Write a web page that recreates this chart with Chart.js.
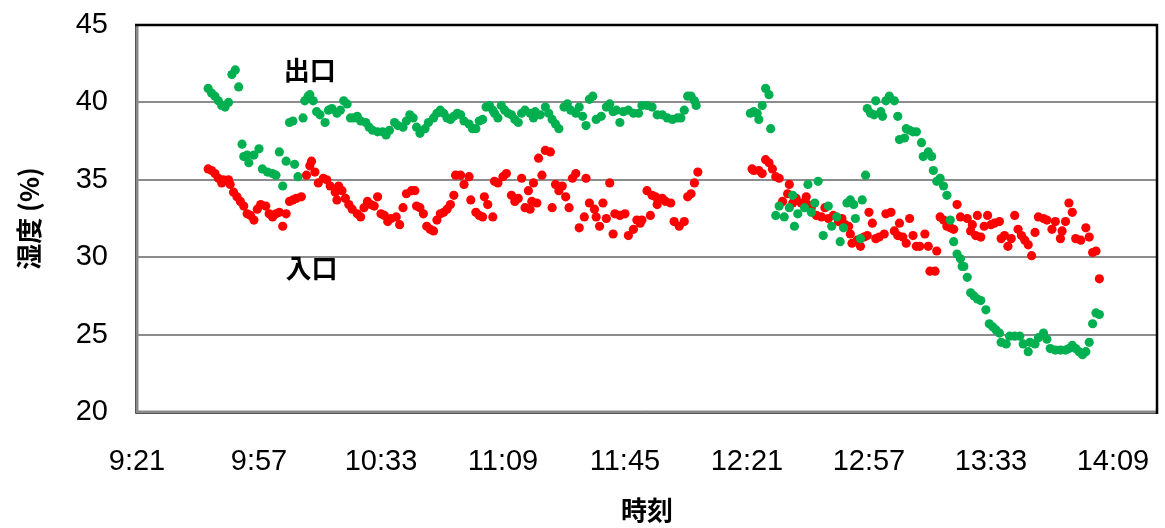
<!DOCTYPE html>
<html>
<head>
<meta charset="utf-8">
<script src="https://cdn.jsdelivr.net/npm/chart.js@4/dist/chart.umd.min.js"></script>
<style>
  html, body { margin: 0; padding: 0; background: #ffffff; }
  #wrap { width: 1165px; height: 528px; position: relative; }
</style>
</head>
<body>
<div id="wrap"><canvas id="c" width="1165" height="528"></canvas></div>
<script>
// Humidity at the outlet (出口) and the inlet (入口), logged through the day.
const outletTimes = [
  "9:42","9:43","9:44","9:45","9:46","9:47","9:48","9:49","9:50","9:51",
  "9:52","9:52:30","9:53:30","9:54","9:55:30","9:57","9:58","9:59:30","10:01","10:02",
  "10:03","10:04","10:05","10:06","10:07","10:07:30","10:08:30","10:10","10:10:30","10:11:30",
  "10:12","10:13","10:14","10:15","10:16:30","10:17:30","10:18:30","10:20","10:21","10:22",
  "10:23","10:24","10:25","10:26","10:27","10:28:30","10:29:30","10:30:30","10:32","10:33:30",
  "10:34:30","10:35:30","10:37","10:38","10:39:30","10:40:30","10:41:30","10:42:30","10:43:30","10:44:30",
  "10:46","10:47","10:48:30","10:49:30","10:50:30","10:51:30","10:52:30","10:53:30","10:54:30","10:55:30",
  "10:56:30","10:57:30","10:59","11:00","11:01","11:02","11:03","11:04","11:05","11:06",
  "11:06:30","11:07:30","11:08:30","11:09:30","11:10:30","11:11:30","11:12:30","11:13:30","11:14:30","11:15:30",
  "11:17","11:18","11:18:30","11:20","11:21:30","11:22:30","11:23:30","11:24:30","11:25:30","11:27",
  "11:28","11:29","11:30:30","11:31:30","11:32:30","11:33:30","11:34:30","11:35:30","11:36:30","11:38",
  "11:39:30","11:40:30","11:41:30","11:42:30","11:43:30","11:44:30","11:46","11:47:30","11:49","11:50",
  "11:51:30","11:53","11:54:30","11:56","11:57:30","11:59","12:00:30","12:01:30","12:02:30","12:03:30",
  "12:04:30","12:05:30","12:06",
  "12:22","12:23","12:24","12:24:30","12:25:30","12:26:30","12:27:30","12:28","12:29:30","12:30:30",
  "12:32","12:33:30","12:34:30","12:35","12:36","12:38","12:39","12:40","12:41","12:42",
  "12:43:30","12:45","12:46","12:47:30","12:48:30","12:49:30","12:50:30","12:51:30","12:52:30","12:53",
  "12:54:30","12:55","12:56","12:56:30","12:57:30","12:58:30","12:59","13:00:30","13:01","13:02",
  "13:03","13:04:30","13:05:30","13:06","13:07:30","13:08","13:09","13:10","13:11","13:12:30",
  "13:13","13:14:30","13:15:30","13:16","13:17","13:18","13:19","13:20","13:21","13:22",
  "13:23","13:24","13:24:30","13:25","13:26","13:27","13:28","13:29","13:30","13:31:30",
  "13:32:30","13:33:30","13:34:30","13:35:30","13:36","13:37:30","13:38:30","13:40","13:41:30","13:42:30",
  "13:44","13:44:30","13:46","13:47","13:48:30","13:49:30","13:50:30","13:52","13:53:30","13:55",
  "13:56","13:57","13:58","13:59","14:00","14:01","14:02","14:03","14:04","14:05"
];
const outletValues = [
  40.9,40.6,40.4,40.1,39.8,39.7,40.0,41.8,42.1,41.0,
  37.3,36.5,36.6,36.1,36.6,37.0,35.7,35.5,35.4,35.3,
  36.8,34.6,36.2,38.7,38.8,36.0,35.2,39.0,40.1,40.4,
  40.5,40.1,39.4,39.2,38.7,39.5,39.6,39.3,39.5,40.1,
  39.9,39.0,39.0,39.1,38.8,38.7,38.4,38.2,38.1,38.1,
  37.9,38.2,38.7,38.5,38.4,38.8,39.2,39.0,38.4,38.0,
  38.3,38.7,39.0,39.3,39.5,39.3,39.0,38.9,39.1,39.3,
  39.2,38.8,38.6,38.3,38.3,38.8,38.9,39.7,39.8,39.5,
  39.3,39.0,39.8,39.5,39.3,39.2,38.9,38.7,39.3,39.5,
  39.3,39.0,39.4,39.2,39.7,39.3,38.9,38.6,38.3,39.7,
  39.9,39.5,39.3,39.7,39.1,38.5,40.2,40.4,38.9,39.1,
  39.7,39.9,39.4,39.5,38.7,39.4,39.5,39.3,39.3,39.8,
  39.8,39.7,39.2,39.2,39.0,38.9,39.0,39.0,39.5,40.4,
  40.4,40.1,39.8,
  39.3,39.4,39.3,38.9,39.8,40.9,40.5,38.3,32.7,33.3,
  32.6,33.2,34.0,32.0,32.8,33.2,34.7,32.9,33.5,34.9,
  31.4,33.3,32.0,32.6,31.0,31.9,33.5,33.7,33.4,32.5,
  31.2,33.7,35.3,39.6,39.3,39.2,40.1,39.4,39.1,40.1,
  40.4,40.1,39.1,37.6,37.7,38.3,38.2,38.1,38.1,37.4,
  36.5,36.8,36.5,35.6,34.9,35.1,34.6,34.0,32.4,31.0,
  30.2,29.9,29.4,29.4,28.7,27.7,27.5,27.3,27.2,26.6,
  25.7,25.5,25.3,25.1,24.5,24.4,24.9,24.9,24.9,24.4,
  23.9,24.5,24.4,24.8,25.1,24.7,24.1,24.0,24.0,24.0,
  24.1,24.3,24.1,23.9,23.7,23.9,24.5,25.7,26.4,26.3
];

const inletTimes = [
  "9:42","9:43","9:44","9:45","9:46","9:46:30","9:48","9:48:30","9:49:30","9:50:30",
  "9:51:30","9:52:30","9:53:30","9:54:30","9:55:30","9:56:30","9:57:30","9:59","10:00","10:01",
  "10:02","10:03","10:04","10:05","10:06","10:07","10:08","10:09:30","10:11","10:12",
  "10:12:30","10:13:30","10:14:30","10:16","10:17","10:18","10:19:30","10:20","10:20:30","10:21:30",
  "10:22:30","10:23:30","10:24:30","10:26","10:27","10:28","10:29","10:30","10:31","10:32",
  "10:33","10:34","10:35","10:36","10:37:30","10:38:30","10:39:30","10:40:30","10:42","10:43",
  "10:43:30","10:44:30","10:45:30","10:46:30","10:47:30","10:48:30","10:49:30","10:50:30","10:51:30","10:52:30",
  "10:53:30","10:54:30","10:55","10:56:30","10:57:30","10:59","10:59:30","11:01","11:02","11:03",
  "11:03:30","11:04:30","11:06","11:06:30","11:07:30","11:09","11:10","11:11:30","11:12:30","11:13:30",
  "11:14:30","11:15:30","11:16:30","11:17","11:17:30","11:18","11:19","11:19:30","11:20:30","11:21:30",
  "11:23","11:23:30","11:24:30","11:25:30","11:26:30","11:27:30","11:28:30","11:29:30","11:30:30","11:31:30",
  "11:33","11:33:30","11:34:30","11:36","11:36:30","11:37:30","11:38:30","11:39:30","11:40:30","11:41:30",
  "11:42","11:43:30","11:45","11:46","11:47:30","11:48:30","11:49:30","11:50","11:51:30","11:52:30",
  "11:53","11:54","11:54:30","11:56","11:57","11:58:30","11:59:30","12:01","12:02:30","12:03:30",
  "12:04:30","12:05:30","12:06:30",
  "12:22:30","12:23","12:24:30","12:25:30","12:26:30","12:27:30","12:28:30","12:29:30","12:30:30","12:31:30",
  "12:33","12:33:30","12:34:30","12:35:30","12:37","12:38:30","12:39","12:40","12:41:30","12:43",
  "12:44","12:45","12:46:30","12:48","12:49","12:50","12:51","12:51:30","12:52","12:53:30",
  "12:54:30","12:55:30","12:56:30","12:57","12:58","12:59","13:00","13:01:30","13:02","13:03:30",
  "13:04:30","13:05:30","13:06","13:07","13:08","13:09","13:10","13:11","13:12","13:13:30",
  "13:14:30","13:15","13:16:30","13:17","13:18","13:19","13:20","13:21","13:22","13:23",
  "13:24","13:26","13:27","13:27:30","13:28:30","13:29","13:30","13:31","13:32","13:33",
  "13:34","13:35:30","13:36","13:37","13:38","13:39","13:40","13:41","13:42","13:43",
  "13:44","13:45","13:46","13:47","13:48:30","13:49:30","13:51","13:52","13:53:30","13:54",
  "13:55","13:56","13:57","13:58","13:59:30","14:01","14:02","14:03","14:04","14:05"
];
const inletValues = [
  35.7,35.6,35.4,35.1,34.8,35.0,35.0,34.7,34.2,33.9,
  33.6,33.3,32.8,32.7,32.4,33.1,33.4,33.3,32.8,32.6,
  32.8,32.9,32.0,32.8,33.6,33.7,33.8,33.9,35.3,35.9,
  36.2,35.5,34.8,35.1,35.0,34.6,34.2,33.7,34.6,34.3,
  33.8,33.4,33.1,32.8,32.6,33.2,33.6,33.4,33.3,33.9,
  32.8,32.7,32.3,32.5,32.6,32.1,33.2,34.1,34.3,34.3,
  33.3,33.2,32.8,32.0,31.8,31.7,32.4,32.8,32.9,33.1,
  33.4,34.0,35.3,35.3,34.7,35.2,33.7,32.9,32.7,32.6,
  33.9,33.4,32.6,34.9,34.8,35.2,35.4,34.0,33.6,33.8,
  35.1,33.2,34.3,33.1,33.6,34.8,33.5,36.4,35.3,36.9,
  36.8,33.2,34.7,34.3,34.6,33.9,33.2,35.1,35.4,31.9,
  32.6,35.1,33.5,33.1,32.6,32.0,33.5,32.5,34.8,31.5,
  32.8,32.7,32.8,31.4,31.8,32.4,32.2,32.4,34.3,32.7,
  34.0,33.9,33.4,33.8,33.6,33.5,32.3,32.0,32.3,33.9,
  34.1,34.8,35.5,
  35.7,35.6,35.6,35.4,36.3,36.1,35.7,35.2,35.1,33.6,
  34.1,34.7,33.5,33.8,33.5,33.9,33.4,33.2,32.7,32.6,
  33.2,32.5,32.7,32.3,32.5,32.1,32.0,31.5,30.9,31.1,
  30.7,31.3,31.4,32.9,32.2,31.2,31.3,31.5,32.8,32.9,
  31.7,31.4,32.2,31.3,30.9,32.5,31.4,30.7,30.7,31.5,
  30.7,29.1,29.1,30.4,32.6,32.4,32.0,31.9,31.8,33.4,
  32.6,32.5,31.7,32.1,31.4,32.7,31.3,32.0,32.7,32.1,
  32.2,32.3,31.2,31.4,30.7,31.2,32.7,31.8,31.4,31.1,
  30.8,30.1,31.6,32.6,32.5,32.4,31.8,32.3,31.2,31.7,
  32.3,33.5,32.9,31.2,31.1,31.9,31.3,30.3,30.4,28.6
];

// Axis range and tick spacing (time in minutes after midnight)
const timeAxisStart = "9:21";
const timeAxisEnd = "14:22";
const timeTickStep = 36;
const humidityTicks = [20, 25, 30, 35, 40, 45];

// Series labels written inside the plot, anchored to data coordinates
const seriesNotes = [
  { text: "出口", time: "10:12", value: 42.1 },
  { text: "入口", time: "10:12:30", value: 29.3 }
];

function toMinutes(s) {
  const p = s.split(":").map(Number);
  return p[0] * 60 + p[1] + (p[2] || 0) / 60;
}
function fmtTime(m) {
  const h = Math.floor(m / 60);
  const mm = Math.round(m - h * 60);
  return h + ":" + (mm < 10 ? "0" + mm : mm);
}
function points(times, values) {
  return times.map((t, i) => ({ x: toMinutes(t), y: values[i] }));
}

const xMin = toMinutes(timeAxisStart);
const xMax = toMinutes(timeAxisEnd);

const frame = {
  id: "frame",
  afterDraw(chart) {
    const { ctx, chartArea: a } = chart;
    ctx.save();
    ctx.lineCap = "butt";
    // left and bottom edges: grey double rule
    ctx.strokeStyle = "#8a8a8a";
    ctx.lineWidth = 3;
    ctx.beginPath();
    ctx.moveTo(a.left, a.top);
    ctx.lineTo(a.left, a.bottom);
    ctx.lineTo(a.right, a.bottom);
    ctx.stroke();
    ctx.strokeStyle = "#555555";
    ctx.lineWidth = 1;
    ctx.beginPath();
    ctx.moveTo(a.left - 1.5, a.top);
    ctx.lineTo(a.left - 1.5, a.bottom + 1.5);
    ctx.lineTo(a.right, a.bottom + 1.5);
    ctx.stroke();
    // top and right edges: black
    ctx.strokeStyle = "#000000";
    ctx.lineWidth = 2.5;
    ctx.beginPath();
    ctx.moveTo(a.left - 2, a.top);
    ctx.lineTo(a.right, a.top);
    ctx.lineTo(a.right, a.bottom + 2);
    ctx.stroke();
    ctx.restore();
  }
};

const notes = {
  id: "notes",
  afterDatasetsDraw(chart) {
    const { ctx, scales } = chart;
    ctx.save();
    ctx.fillStyle = "#000000";
    ctx.font = "bold 26px 'Noto Sans CJK JP', sans-serif";
    ctx.textAlign = "center";
    ctx.textBaseline = "middle";
    seriesNotes.forEach(n => {
      ctx.fillText(n.text, scales.x.getPixelForValue(toMinutes(n.time)), scales.y.getPixelForValue(n.value));
    });
    ctx.restore();
  }
};

new Chart(document.getElementById("c"), {
  type: "scatter",
  data: {
    datasets: [
      {
        label: "出口",
        data: points(outletTimes, outletValues),
        backgroundColor: "#00B050",
        borderWidth: 0,
        pointRadius: 4.6,
        order: 0
      },
      {
        label: "入口",
        data: points(inletTimes, inletValues),
        backgroundColor: "#FF0000",
        borderWidth: 0,
        pointRadius: 4.6,
        order: 1
      }
    ]
  },
  options: {
    responsive: false,
    animation: false,
    events: [],
    layout: { padding: { top: 25, right: 8, left: 0, bottom: 0 } },
    plugins: { legend: { display: false }, tooltip: { enabled: false } },
    scales: {
      x: {
        type: "linear",
        min: xMin,
        max: xMax,
        afterFit(scale) {
          scale.height = 116;
          scale.paddingLeft = 0;
          scale.paddingRight = 0;
        },
        afterBuildTicks(scale) {
          const t = [];
          for (let v = xMin; v <= xMax; v += timeTickStep) t.push({ value: v });
          scale.ticks = t;
        },
        ticks: {
          callback: v => fmtTime(v),
          font: { family: "'Liberation Sans', Arial, sans-serif", size: 29 },
          color: "#000000",
          padding: 3,
          maxRotation: 0,
          autoSkip: false
        },
        grid: {
          display: true,
          drawOnChartArea: false,
          drawTicks: true,
          tickLength: 30,
          tickColor: "rgba(0,0,0,0)"
        },
        border: { display: false },
        title: {
          display: true,
          text: "時刻",
          color: "#000000",
          font: { family: "'Noto Sans CJK JP', sans-serif", size: 26, weight: "bold" },
          padding: { top: 0, bottom: 2 }
        }
      },
      y: {
        min: 20,
        max: 45,
        afterFit(scale) {
          scale.width = 137;
          scale.paddingTop = 0;
          scale.paddingBottom = 0;
        },
        afterBuildTicks(scale) { scale.ticks = humidityTicks.map(v => ({ value: v })); },
        ticks: {
          font: { family: "'Liberation Sans', Arial, sans-serif", size: 29 },
          color: "#000000",
          padding: 29
        },
        grid: {
          drawTicks: false,
          lineWidth: 2,
          color: ctx => (ctx.tick && (ctx.tick.value === 20 || ctx.tick.value === 45)) ? "rgba(0,0,0,0)" : "#8c8c8c"
        },
        border: { display: false },
        title: {
          display: true,
          text: "湿度 (%)",
          color: "#000000",
          font: { family: "'Noto Sans CJK JP', sans-serif", size: 26, weight: "bold" },
          padding: { top: 14, bottom: 0 }
        }
      }
    }
  },
  plugins: [frame, notes]
});
</script>
</body>
</html>
